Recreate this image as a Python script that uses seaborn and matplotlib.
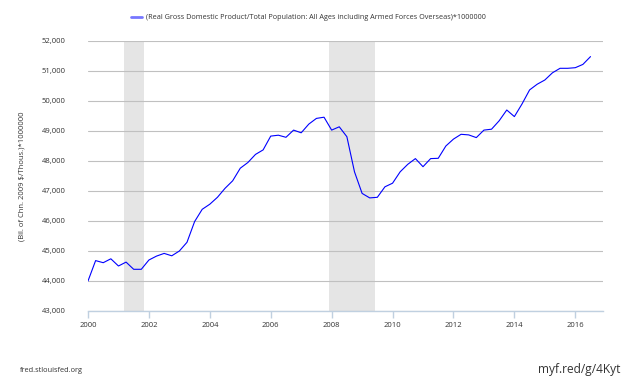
import numpy as np
import pandas as pd
import matplotlib
matplotlib.use("Agg")
import matplotlib.pyplot as plt
import seaborn as sns

# quarterly values, 2000Q1 .. 2016Q3
quarters = pd.period_range("2000Q1", "2016Q3", freq="Q")
gdp_per_capita = [
    44000, 44680, 44610, 44740,   # 2000
    44500, 44630, 44390, 44390,   # 2001
    44700, 44830, 44920, 44840,   # 2002
    45000, 45290, 45980, 46390,   # 2003
    46560, 46790, 47090, 47340,   # 2004
    47760, 47950, 48220, 48370,   # 2005
    48830, 48860, 48790, 49030,   # 2006
    48940, 49230, 49420, 49460,   # 2007
    49030, 49140, 48810, 47640,   # 2008
    46920, 46770, 46790, 47140,   # 2009
    47260, 47640, 47890, 48080,   # 2010
    47810, 48080, 48090, 48500,   # 2011
    48730, 48890, 48870, 48780,   # 2012
    49030, 49060, 49340, 49700,   # 2013
    49480, 49900, 50370, 50560,   # 2014
    50700, 50940, 51090, 51090,   # 2015
    51110, 51220, 51480,          # 2016
]
recessions = [(2001 + 2 / 12, 2001 + 10 / 12), (2007 + 11 / 12, 2009 + 5 / 12)]
series_name = "(Real Gross Domestic Product/Total Population: All Ages including Armed Forces Overseas)*1000000"
y_label = "(Bil. of Chn. 2009 $/Thous.)*1000000"

df = pd.DataFrame({
    "year": [q.year + (q.quarter - 1) / 4 for q in quarters],
    "value": gdp_per_capita,
})

sns.set_style("white")
plt.rcParams["font.family"] = ["Open Sans", "DejaVu Sans"]

fig = plt.figure(figsize=(6.3, 3.78), dpi=100)
ax = fig.add_axes([88 / 630, 67 / 378, 514.7 / 630, 270 / 378])

for start, end in recessions:
    ax.axvspan(start, end, color="#e5e5e5", lw=0, zorder=0)

sns.lineplot(data=df, x="year", y="value", ax=ax, color="#0000ff", lw=0.8,
             label=series_name, zorder=3)

ax.set_xlim(2000, 2016.9)
ax.set_ylim(43000, 52000)
ax.set_xticks(np.arange(2000, 2017, 2))
ax.set_yticks(np.arange(43000, 52001, 1000))
ax.set_yticklabels([f"{v:,}" for v in range(43000, 52001, 1000)])
ax.grid(axis="y", color="#c0c0c0", lw=0.8)
ax.grid(axis="x", visible=False)
for s in ["top", "right", "left"]:
    ax.spines[s].set_visible(False)
ax.spines["bottom"].set_color("#c0d0e0")
ax.spines["bottom"].set_linewidth(1)
ax.tick_params(axis="x", length=5, width=1, color="#c0d0e0", labelsize=5.5,
               labelcolor="#333333", pad=3, bottom=True)
ax.tick_params(axis="y", length=0, labelsize=5.5, labelcolor="#333333", pad=16)
ax.set_xlabel("")
ax.set_ylabel(y_label, fontsize=5.5, color="#333333", labelpad=12)

leg = ax.legend(loc="lower left", bbox_to_anchor=(127 / 630, 1 - 25 / 378),
                bbox_transform=fig.transFigure, frameon=False, fontsize=5.2,
                handlelength=1.6, handletextpad=0.5, borderpad=0)
for line in leg.get_lines():
    line.set_color("#7777ff")
    line.set_linewidth(2)
for t in leg.get_texts():
    t.set_color("#333333")

fig.text(20 / 630, 1 - 370 / 378, "fred.stlouisfed.org", fontsize=5.3,
         color="#333333", va="center", ha="left")
fig.text(620 / 630, 1 - 369 / 378, "myf.red/g/4Kyt", fontsize=8.6,
         color="#333333", va="center", ha="right")

fig.savefig("out.png", dpi=100)
